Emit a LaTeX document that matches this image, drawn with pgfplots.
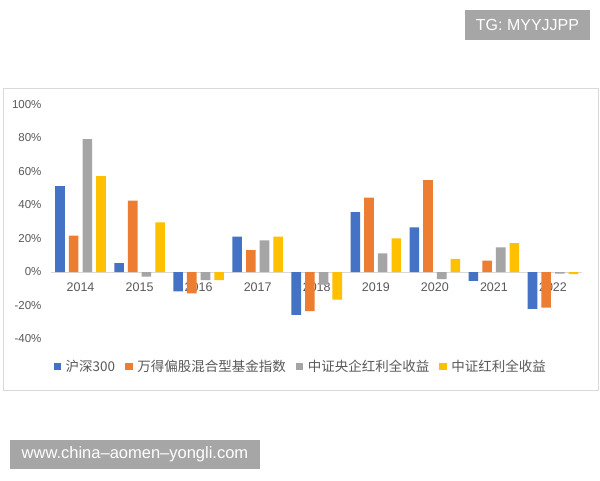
\documentclass[border=0pt]{standalone}
\usepackage{pgfplots}
\pgfplotsset{compat=1.18}
\usepackage{fontspec}
\setmainfont{Liberation Sans}
\newfontfamily\cjk{Noto Sans CJK SC}
\definecolor{cBlue}{HTML}{4472C4}
\definecolor{cOrange}{HTML}{ED7D31}
\definecolor{cGray}{HTML}{A5A5A5}
\definecolor{cYellow}{HTML}{FFC000}
\definecolor{txt}{HTML}{595959}
\definecolor{wm}{HTML}{A6A6A6}
\definecolor{frame}{HTML}{D9D9D9}
\begin{document}
\begin{tikzpicture}
\useasboundingbox (0pt,0pt) rectangle (600pt,480pt);
\fill[white] (0pt,0pt) rectangle (600pt,480pt);
% chart frame
\draw[frame, line width=1pt] (3pt,480pt-390pt) rectangle (598pt,480pt-89pt);
% watermarks
\fill[wm] (465pt,480pt-10pt) rectangle (590pt,480pt-40pt);
\node[white, font=\fontsize{16}{18}\selectfont] at (527.5pt,480pt-25pt) {TG: MYYJJPP};
\fill[wm] (10pt,480pt-440pt) rectangle (260pt,480pt-469pt);
\node[white, font=\fontsize{16.5}{18}\selectfont] at (135pt,480pt-454.5pt) {www.china–aomen–yongli.com};
\begin{axis}[
  at={(51pt,141pt)}, anchor=south west,
  scale only axis, width=531.5pt, height=234.5pt,
  ybar, bar width=9.6pt,
  xmin=-0.5, xmax=8.5, ymin=-40, ymax=100,
  axis x line=middle, axis y line=left,
  x axis line style={-, draw=frame, line width=0.8pt},
  y axis line style={draw=none},
  hide obscured x ticks=false, hide obscured y ticks=false,
  xtick={0,...,8},
  xticklabels={2014,2015,2016,2017,2018,2019,2020,2021,2022},
  ytick={-40,-20,0,20,40,60,80,100},
  yticklabels={-40\%,-20\%,0\%,20\%,40\%,60\%,80\%,100\%},
  major tick length=0pt,
  tick style={draw=none},
  xticklabel style={font=\fontsize{12.5}{14}\selectfont, text=txt, yshift=-7pt},
  yticklabel style={font=\fontsize{11.5}{13}\selectfont, text=txt, xshift=-6pt},
  legend style={at={(0.47,-0.117)}, anchor=center, draw=none, fill=none,
    legend columns=4, font=\cjk\fontsize{13.5}{15}\selectfont, text=txt,
    /tikz/every odd column/.append style={column sep=2.5pt},
    /tikz/every even column/.append style={column sep=8pt},
    inner sep=0pt},
  legend image code/.code={\fill[#1] (0pt,-3.8pt) rectangle (7.6pt,3.8pt);},
  clip=false,
]
\addplot[fill=cBlue, draw=none, bar shift=-20.5pt] coordinates {(0,51.2) (1,5.3) (2,-11.6) (3,21.1) (4,-25.6) (5,35.8) (6,26.7) (7,-5.3) (8,-22.0)};
\addplot[fill=cOrange, draw=none, bar shift=-6.85pt] coordinates {(0,21.7) (1,42.6) (2,-12.7) (3,13.1) (4,-23.3) (5,44.4) (6,54.9) (7,6.8) (8,-21.3)};
\addplot[fill=cGray, draw=none, bar shift=6.85pt] coordinates {(0,79.4) (1,-2.8) (2,-4.8) (3,18.9) (4,-7.5) (5,11.1) (6,-4.2) (7,14.7) (8,-1.0)};
\addplot[fill=cYellow, draw=none, bar shift=20.5pt] coordinates {(0,57.3) (1,29.7) (2,-4.8) (3,21.1) (4,-16.5) (5,20.1) (6,7.8) (7,17.3) (8,-1.2)};
\legend{沪深300,万得偏股混合型基金指数,中证央企红利全收益,中证红利全收益}
\end{axis}
\end{tikzpicture}
\end{document}
